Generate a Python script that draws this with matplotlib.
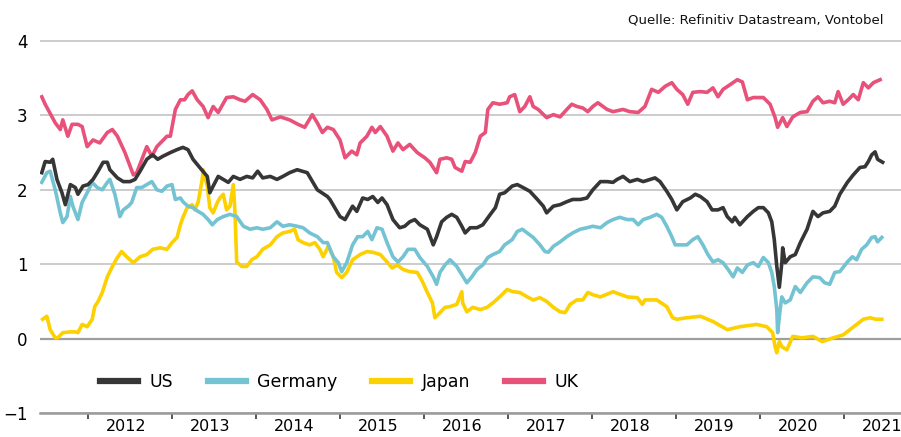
import matplotlib
matplotlib.use("Agg")
import matplotlib.pyplot as plt
import numpy as np

# ---------------- data (10y breakeven-type series) ----------------
years_us = [2011.45, 2011.49, 2011.55, 2011.58, 2011.63, 2011.69, 2011.73, 2011.79, 2011.85, 2011.88,
            2011.94, 2012.00, 2012.06, 2012.12, 2012.18, 2012.23, 2012.26, 2012.35, 2012.42, 2012.50,
            2012.56, 2012.62, 2012.70, 2012.77, 2012.83, 2012.89, 2012.98, 2013.06, 2013.13, 2013.19,
            2013.25, 2013.33, 2013.42, 2013.45, 2013.49, 2013.55, 2013.61, 2013.67, 2013.73, 2013.81,
            2013.89, 2013.96, 2014.02, 2014.08, 2014.17, 2014.25, 2014.32, 2014.40, 2014.49, 2014.61,
            2014.73, 2014.85, 2014.88, 2015.00, 2015.06, 2015.15, 2015.20, 2015.27, 2015.33, 2015.39,
            2015.45, 2015.50, 2015.56, 2015.63, 2015.71, 2015.77, 2015.83, 2015.89, 2015.95, 2016.04,
            2016.11, 2016.15, 2016.21, 2016.27, 2016.33, 2016.39, 2016.45, 2016.49, 2016.55, 2016.63,
            2016.70, 2016.79, 2016.85, 2016.90, 2016.96, 2017.05, 2017.11, 2017.18, 2017.26, 2017.35,
            2017.42, 2017.46, 2017.54, 2017.62, 2017.70, 2017.77, 2017.86, 2017.94, 2018.01, 2018.10,
            2018.18, 2018.25, 2018.30, 2018.37, 2018.45, 2018.54, 2018.61, 2018.75, 2018.81, 2018.89,
            2018.95, 2019.01, 2019.08, 2019.17, 2019.23, 2019.29, 2019.37, 2019.43, 2019.50, 2019.56,
            2019.61, 2019.67, 2019.70, 2019.76, 2019.85, 2019.92, 2019.98, 2020.04, 2020.10, 2020.14,
            2020.17, 2020.20, 2020.23, 2020.26, 2020.27, 2020.30, 2020.36, 2020.42, 2020.48, 2020.56,
            2020.63, 2020.69, 2020.75, 2020.83, 2020.89, 2020.95, 2021.04, 2021.11, 2021.19, 2021.25,
            2021.29, 2021.33, 2021.37, 2021.40, 2021.46]
us = [2.23, 2.38, 2.37, 2.41, 2.14, 1.96, 1.80, 2.07, 2.03, 1.94,
      2.05, 2.07, 2.14, 2.25, 2.37, 2.37, 2.27, 2.16, 2.11, 2.11,
      2.14, 2.25, 2.41, 2.47, 2.41, 2.45, 2.50, 2.54, 2.57, 2.54,
      2.41, 2.30, 2.18, 1.96, 2.05, 2.18, 2.14, 2.10, 2.18, 2.14,
      2.18, 2.16, 2.25, 2.16, 2.18, 2.14, 2.18, 2.23, 2.27, 2.23,
      2.00, 1.91, 1.87, 1.64, 1.60, 1.78, 1.71, 1.89, 1.87, 1.91,
      1.83, 1.89, 1.80, 1.60, 1.49, 1.51, 1.57, 1.60, 1.53, 1.47,
      1.26, 1.37, 1.57, 1.63, 1.67, 1.63, 1.51, 1.42, 1.49, 1.49,
      1.53, 1.67, 1.76, 1.94, 1.96, 2.05, 2.07, 2.03, 1.98, 1.87,
      1.78, 1.69, 1.78, 1.80, 1.84, 1.87, 1.87, 1.89, 2.00, 2.11,
      2.11, 2.10, 2.14, 2.18, 2.11, 2.14, 2.11, 2.16, 2.11, 1.98,
      1.87, 1.73, 1.84, 1.89, 1.94, 1.91, 1.84, 1.73, 1.73, 1.76,
      1.64, 1.57, 1.63, 1.53, 1.64, 1.71, 1.76, 1.76, 1.69, 1.57,
      1.33, 0.97, 0.69, 1.02, 1.22, 1.02, 1.10, 1.13, 1.29, 1.47,
      1.71, 1.64, 1.69, 1.71, 1.78, 1.94, 2.10, 2.20, 2.30, 2.31,
      2.38, 2.47, 2.51, 2.41, 2.37]

years_de = [2011.45, 2011.51, 2011.55, 2011.61, 2011.67, 2011.70, 2011.75, 2011.79, 2011.82, 2011.88,
            2011.93, 2011.99, 2012.05, 2012.11, 2012.17, 2012.23, 2012.26, 2012.32, 2012.38, 2012.42,
            2012.48, 2012.52, 2012.58, 2012.64, 2012.70, 2012.76, 2012.82, 2012.88, 2012.94, 2013.00,
            2013.04, 2013.10, 2013.13, 2013.19, 2013.25, 2013.31, 2013.37, 2013.43, 2013.48, 2013.54,
            2013.61, 2013.69, 2013.77, 2013.85, 2013.93, 2014.01, 2014.08, 2014.17, 2014.25, 2014.32,
            2014.40, 2014.49, 2014.56, 2014.64, 2014.73, 2014.80, 2014.85, 2014.92, 2014.98, 2015.02,
            2015.08, 2015.15, 2015.21, 2015.27, 2015.33, 2015.38, 2015.44, 2015.50, 2015.56, 2015.63,
            2015.69, 2015.75, 2015.81, 2015.89, 2015.95, 2016.04, 2016.11, 2016.15, 2016.19, 2016.25,
            2016.31, 2016.39, 2016.45, 2016.51, 2016.57, 2016.63, 2016.70, 2016.76, 2016.82, 2016.90,
            2016.96, 2017.05, 2017.11, 2017.17, 2017.23, 2017.30, 2017.38, 2017.44, 2017.48, 2017.54,
            2017.62, 2017.70, 2017.77, 2017.86, 2017.94, 2018.01, 2018.10, 2018.18, 2018.25, 2018.33,
            2018.42, 2018.49, 2018.55, 2018.61, 2018.69, 2018.77, 2018.83, 2018.89, 2018.95, 2018.99,
            2019.05, 2019.13, 2019.20, 2019.26, 2019.32, 2019.38, 2019.44, 2019.50, 2019.56, 2019.62,
            2019.68, 2019.73, 2019.79, 2019.85, 2019.92, 2019.98, 2020.04, 2020.10, 2020.14, 2020.17,
            2020.20, 2020.21, 2020.24, 2020.26, 2020.30, 2020.36, 2020.42, 2020.48, 2020.56, 2020.63,
            2020.71, 2020.77, 2020.83, 2020.89, 2020.95, 2021.04, 2021.10, 2021.15, 2021.21, 2021.27,
            2021.33, 2021.37, 2021.40, 2021.45]
germany = [2.10, 2.23, 2.25, 2.00, 1.69, 1.56, 1.64, 1.91, 1.78, 1.60,
           1.83, 1.96, 2.10, 2.03, 2.00, 2.10, 2.14, 1.94, 1.64, 1.73,
           1.78, 1.83, 2.03, 2.03, 2.07, 2.11, 2.00, 1.98, 2.05, 2.07,
           1.87, 1.89, 1.84, 1.78, 1.76, 1.71, 1.67, 1.60, 1.53, 1.60,
           1.64, 1.67, 1.64, 1.51, 1.47, 1.49, 1.47, 1.49, 1.57, 1.51,
           1.53, 1.51, 1.49, 1.42, 1.37, 1.29, 1.29, 1.10, 1.02, 0.90,
           1.02, 1.26, 1.37, 1.37, 1.44, 1.33, 1.49, 1.47, 1.29, 1.10,
           1.03, 1.10, 1.20, 1.20, 1.09, 0.97, 0.83, 0.73, 0.89, 0.99,
           1.06, 0.97, 0.86, 0.75, 0.83, 0.93, 0.99, 1.09, 1.13, 1.17,
           1.26, 1.33, 1.44, 1.47, 1.42, 1.36, 1.26, 1.17, 1.16, 1.24,
           1.30, 1.37, 1.42, 1.47, 1.49, 1.51, 1.49, 1.56, 1.60, 1.63,
           1.60, 1.60, 1.53, 1.60, 1.63, 1.67, 1.63, 1.51, 1.37, 1.26,
           1.26, 1.26, 1.33, 1.37, 1.26, 1.13, 1.03, 1.06, 1.02, 0.93,
           0.83, 0.95, 0.89, 0.99, 1.02, 0.97, 1.09, 1.02, 0.89, 0.70,
           0.39, 0.08, 0.39, 0.56, 0.48, 0.52, 0.70, 0.62, 0.75, 0.83,
           0.82, 0.75, 0.73, 0.89, 0.90, 1.03, 1.10, 1.06, 1.20, 1.26,
           1.36, 1.37, 1.30, 1.36]

years_jp = [2011.46, 2011.51, 2011.55, 2011.61, 2011.64, 2011.70, 2011.79, 2011.85, 2011.88, 2011.93,
            2011.99, 2012.05, 2012.08, 2012.12, 2012.17, 2012.23, 2012.29, 2012.35, 2012.40, 2012.46,
            2012.54, 2012.62, 2012.70, 2012.77, 2012.86, 2012.94, 2013.00, 2013.06, 2013.10, 2013.13,
            2013.18, 2013.24, 2013.27, 2013.31, 2013.36, 2013.37, 2013.42, 2013.45, 2013.49, 2013.54,
            2013.57, 2013.61, 2013.65, 2013.69, 2013.73, 2013.75, 2013.77, 2013.83, 2013.89, 2013.95,
            2014.01, 2014.08, 2014.17, 2014.25, 2014.32, 2014.40, 2014.46, 2014.50, 2014.56, 2014.64,
            2014.70, 2014.76, 2014.80, 2014.86, 2014.92, 2014.96, 2015.02, 2015.08, 2015.15, 2015.24,
            2015.32, 2015.39, 2015.48, 2015.56, 2015.62, 2015.68, 2015.75, 2015.83, 2015.92, 2015.98,
            2016.04, 2016.10, 2016.13, 2016.19, 2016.25, 2016.31, 2016.39, 2016.45, 2016.46, 2016.51,
            2016.58, 2016.67, 2016.75, 2016.82, 2016.90, 2016.99, 2017.06, 2017.14, 2017.23, 2017.30,
            2017.38, 2017.46, 2017.54, 2017.62, 2017.68, 2017.74, 2017.82, 2017.89, 2017.95, 2018.01,
            2018.10, 2018.25, 2018.42, 2018.54, 2018.60, 2018.63, 2018.77, 2018.89, 2018.96, 2019.01,
            2019.13, 2019.29, 2019.44, 2019.61, 2019.76, 2019.96, 2020.08, 2020.15, 2020.18, 2020.20,
            2020.23, 2020.26, 2020.32, 2020.39, 2020.50, 2020.63, 2020.74, 2020.87, 2020.99, 2021.07,
            2021.15, 2021.23, 2021.31, 2021.38, 2021.45]
japan = [0.26, 0.30, 0.12, 0.01, 0.01, 0.08, 0.09, 0.09, 0.08, 0.19,
         0.16, 0.26, 0.43, 0.50, 0.62, 0.83, 0.97, 1.09, 1.17, 1.10,
         1.02, 1.10, 1.13, 1.20, 1.22, 1.20, 1.29, 1.36, 1.53, 1.63,
         1.76, 1.80, 1.73, 1.83, 2.14, 2.27, 2.05, 1.76, 1.69, 1.83,
         1.89, 1.94, 1.73, 1.78, 2.07, 1.69, 1.03, 0.97, 0.97, 1.06,
         1.10, 1.20, 1.26, 1.37, 1.42, 1.44, 1.47, 1.33, 1.29, 1.26,
         1.29, 1.20, 1.10, 1.24, 1.10, 0.89, 0.82, 0.89, 1.06, 1.13,
         1.17, 1.16, 1.13, 1.03, 0.95, 0.99, 0.93, 0.90, 0.89, 0.77,
         0.62, 0.48, 0.28, 0.35, 0.42, 0.43, 0.46, 0.63, 0.48, 0.36,
         0.42, 0.39, 0.42, 0.48, 0.56, 0.66, 0.63, 0.62, 0.56, 0.52,
         0.55, 0.50, 0.42, 0.36, 0.35, 0.46, 0.52, 0.52, 0.62, 0.59,
         0.56, 0.63, 0.56, 0.55, 0.46, 0.52, 0.52, 0.43, 0.28, 0.26,
         0.28, 0.30, 0.23, 0.12, 0.16, 0.19, 0.16, 0.08, -0.11, -0.19,
         -0.04, -0.11, -0.15, 0.03, 0.01, 0.03, -0.04, 0.01, 0.05, 0.12,
         0.19, 0.26, 0.28, 0.26, 0.26]

years_uk = [2011.45, 2011.49, 2011.61, 2011.67, 2011.70, 2011.76, 2011.81, 2011.88, 2011.93, 2011.99,
            2012.06, 2012.14, 2012.23, 2012.29, 2012.35, 2012.44, 2012.54, 2012.58, 2012.70, 2012.76,
            2012.82, 2012.94, 2012.98, 2013.04, 2013.10, 2013.15, 2013.19, 2013.24, 2013.30, 2013.37,
            2013.43, 2013.49, 2013.55, 2013.65, 2013.73, 2013.81, 2013.87, 2013.96, 2014.05, 2014.13,
            2014.19, 2014.29, 2014.40, 2014.50, 2014.58, 2014.67, 2014.73, 2014.79, 2014.85, 2014.92,
            2015.00, 2015.06, 2015.14, 2015.20, 2015.24, 2015.32, 2015.38, 2015.42, 2015.48, 2015.56,
            2015.63, 2015.69, 2015.75, 2015.83, 2015.92, 2016.01, 2016.07, 2016.15, 2016.19, 2016.27,
            2016.33, 2016.37, 2016.45, 2016.49, 2016.55, 2016.61, 2016.67, 2016.73, 2016.76, 2016.82,
            2016.90, 2016.99, 2017.02, 2017.08, 2017.14, 2017.20, 2017.26, 2017.30, 2017.36, 2017.46,
            2017.54, 2017.62, 2017.70, 2017.76, 2017.82, 2017.89, 2017.95, 2018.01, 2018.07, 2018.18,
            2018.25, 2018.37, 2018.45, 2018.55, 2018.63, 2018.71, 2018.79, 2018.87, 2018.95, 2019.01,
            2019.08, 2019.14, 2019.20, 2019.29, 2019.37, 2019.44, 2019.50, 2019.56, 2019.64, 2019.73,
            2019.79, 2019.85, 2019.92, 2020.04, 2020.12, 2020.18, 2020.21, 2020.27, 2020.32, 2020.39,
            2020.48, 2020.56, 2020.63, 2020.69, 2020.75, 2020.83, 2020.89, 2020.93, 2020.99, 2021.05,
            2021.11, 2021.17, 2021.23, 2021.29, 2021.35, 2021.43]
uk = [3.25, 3.15, 2.90, 2.81, 2.94, 2.72, 2.88, 2.88, 2.85, 2.58,
      2.67, 2.63, 2.77, 2.81, 2.72, 2.50, 2.20, 2.23, 2.58, 2.45,
      2.58, 2.72, 2.72, 3.08, 3.21, 3.21, 3.28, 3.33, 3.21, 3.12,
      2.97, 3.12, 3.04, 3.24, 3.25, 3.21, 3.19, 3.28, 3.21, 3.08,
      2.94, 2.98, 2.94, 2.88, 2.84, 3.01, 2.90, 2.77, 2.84, 2.81,
      2.67, 2.43, 2.52, 2.47, 2.63, 2.72, 2.84, 2.77, 2.85, 2.72,
      2.52, 2.63, 2.54, 2.61, 2.50, 2.43, 2.37, 2.23, 2.41, 2.43,
      2.41, 2.30, 2.25, 2.38, 2.37, 2.50, 2.72, 2.77, 3.08, 3.17,
      3.15, 3.17, 3.25, 3.28, 3.05, 3.12, 3.25, 3.12, 3.08, 2.97,
      3.01, 2.98, 3.08, 3.15, 3.12, 3.10, 3.05, 3.12, 3.17, 3.08,
      3.05, 3.08, 3.05, 3.04, 3.12, 3.35, 3.31, 3.39, 3.44, 3.35,
      3.28, 3.15, 3.31, 3.32, 3.31, 3.37, 3.25, 3.35, 3.41, 3.48,
      3.45, 3.21, 3.24, 3.24, 3.15, 2.97, 2.84, 2.97, 2.85, 2.98,
      3.04, 3.05, 3.19, 3.25, 3.17, 3.19, 3.17, 3.32, 3.15, 3.21,
      3.28, 3.21, 3.44, 3.37, 3.44, 3.48]

series_names = ["US", "Germany", "Japan", "UK"]
series_colors = ["#363636", "#74c3d3", "#fdd000", "#e8517a"]
year_labels = list(range(2012, 2022))
y_ticks = [-1, 0, 1, 2, 3, 4]

# ---------------- figure ----------------
W, H = 901, 437
fig = plt.figure(figsize=(W / 100, H / 100), dpi=100)
plt.rcParams['font.family'] = ['DejaVu Sans']

x0_year = 2012 + (40 - 88) / 84.0
x1_year = 2012 + (901 - 88) / 84.0
ytop = 4.05
ax = fig.add_axes([40 / W, (H - 413) / H, 861 / W, (413 - (41 - 0.05 * 74.4)) / H])
ax.set_xlim(x0_year, x1_year)
ax.set_ylim(-1, ytop)

for s in ["top", "right", "left"]:
    ax.spines[s].set_visible(False)
ax.spines["bottom"].set_color("#9a9a9a")
ax.spines["bottom"].set_linewidth(1.8)

ax.set_yticks(y_ticks)
ax.set_yticklabels([str(v).replace("-", "\u2212") for v in y_ticks], fontsize=12)
ax.tick_params(axis="y", length=0, pad=9)
ax.yaxis.grid(True, color="#cccccc", linewidth=1.4)
ax.set_axisbelow(True)
ax.axhline(0, color="#9e9e9e", linewidth=1.6, zorder=1)

ax.set_xticks(year_labels)
ax.set_xticklabels([])
ax.tick_params(axis="x", which="major", length=4, width=1.4, color="#555555", direction="out")
ax.set_xticks([y + 0.45 for y in year_labels], minor=True)
ax.set_xticklabels([str(y) for y in year_labels], minor=True, fontsize=11.5)
ax.tick_params(axis="x", which="minor", length=0, pad=4)

data = [(years_us, us), (years_de, germany), (years_jp, japan), (years_uk, uk)]
handles = []
for (xs, ys), name, col in zip(data, series_names, series_colors):
    h, = ax.plot(xs, ys, color=col, linewidth=2.6, label=name, zorder=3,
                 solid_joinstyle="round")
    handles.append(h)

# draw order: UK, Japan, Germany, US on top
for h, z in zip(handles, [6, 5, 4, 3]):
    h.set_zorder(z)

leg = fig.legend(handles=handles, labels=series_names, loc="center left",
                 bbox_to_anchor=(100 / W, 1 - 382 / H), ncol=4, frameon=False,
                 fontsize=12.5, handlelength=2.2, handletextpad=0.65,
                 columnspacing=2.0, borderpad=0, borderaxespad=0)
for lh in leg.get_lines():
    lh.set_linewidth(4.5)

fig.text(628 / W, 1 - 20 / H, "Quelle: Refinitiv Datastream, Vontobel",
         fontsize=9.5, ha="left", va="center", color="#111111")

fig.savefig("out.png", dpi=100)
